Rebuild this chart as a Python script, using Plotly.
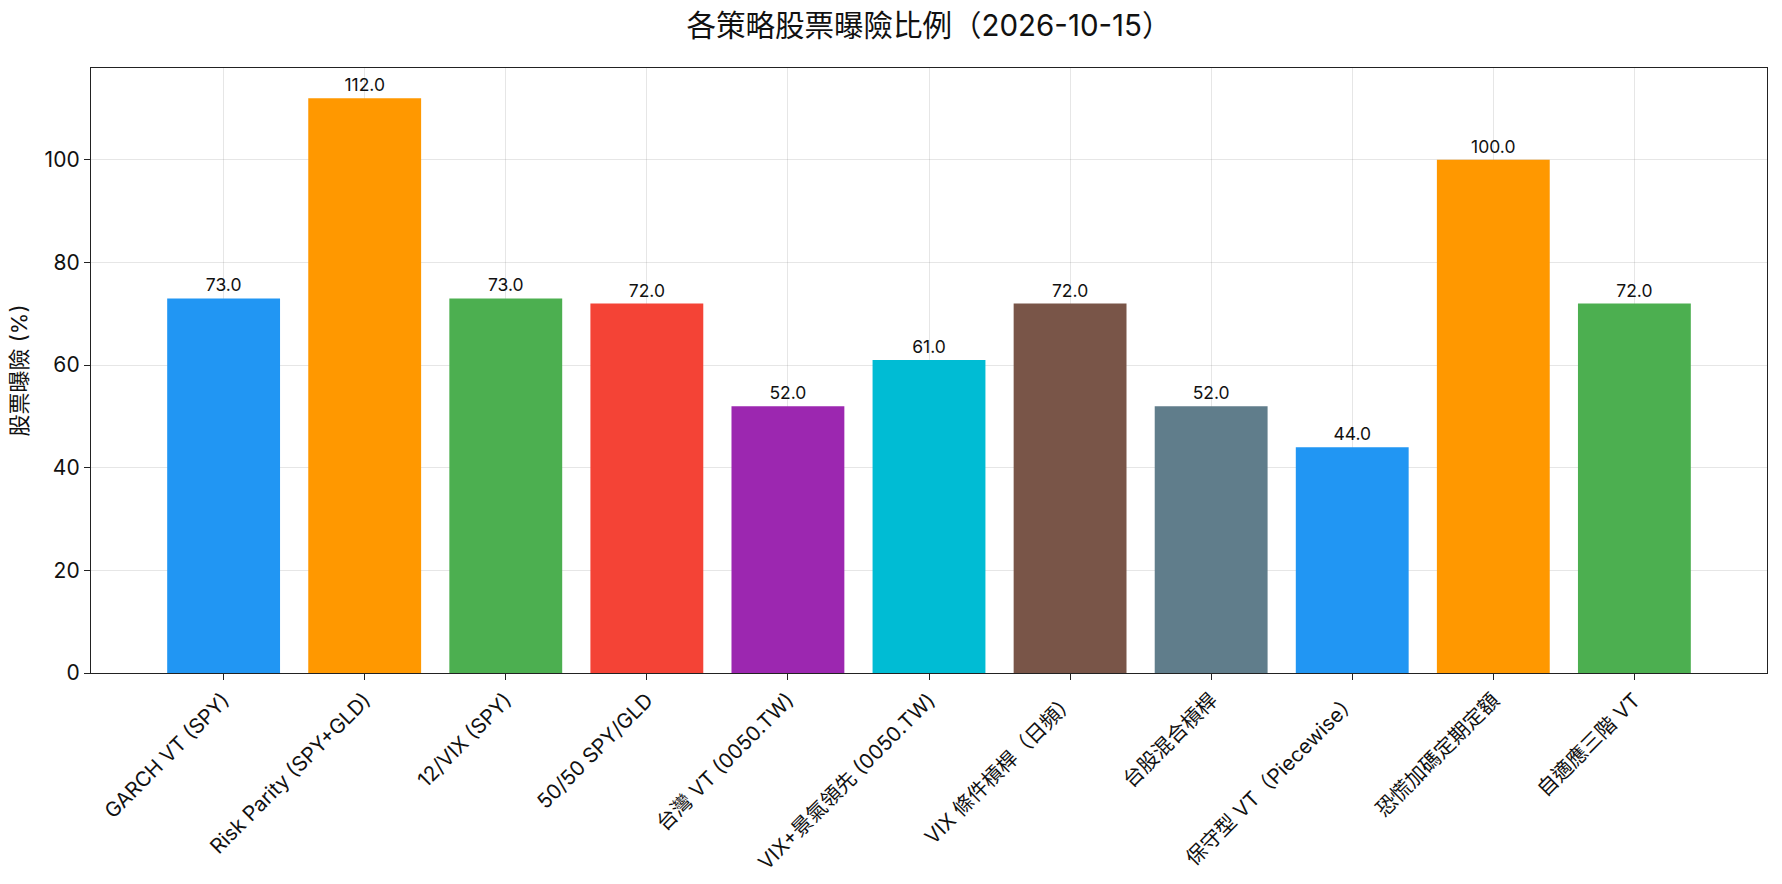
import plotly.graph_objects as go

categories = ["GARCH VT (SPY)", "Risk Parity (SPY+GLD)", "12/VIX (SPY)", "50/50 SPY/GLD",
              "台灣 VT (0050.TW)", "VIX+景氣領先 (0050.TW)", "VIX 條件槓桿（日頻）", "台股混合槓桿",
              "保守型 VT（Piecewise）", "恐慌加碼定期定額", "自適應三階 VT"]
exposure = [73.0, 112.0, 73.0, 72.0, 52.0, 61.0, 72.0, 52.0, 44.0, 100.0, 72.0]
colors = ["#2196F3", "#FF9800", "#4CAF50", "#F44336", "#9C27B0", "#00BCD4",
          "#795548", "#607D8B", "#2196F3", "#FF9800", "#4CAF50"]
title = "各策略股票曝險比例（2026-10-15）"
ylabel = "股票曝險 (%)"

FONT = "Inter, Noto Sans CJK TC, sans-serif"

fig = go.Figure(go.Bar(
    x=list(range(len(categories))), y=exposure, width=0.8,
    marker=dict(color=colors, line=dict(width=0)),
    text=[f"{v:.1f}" for v in exposure], textposition="outside",
    textfont=dict(size=17.5, color="#111111", family=FONT),
    cliponaxis=False,
))

fig.update_layout(
    width=1782, height=884,
    margin=dict(l=91, r=15, t=68, b=211, autoexpand=False),
    paper_bgcolor="white", plot_bgcolor="white",
    font=dict(family=FONT, size=20, color="#111111"),
    title=dict(text=title, xref="paper", x=0.5, xanchor="center", y=1 - 26 / 884, yanchor="middle",
               font=dict(size=29.5, color="#111111")),
    showlegend=False,
)
fig.update_xaxes(
    range=[-0.94, 10.94], tickmode="array", tickvals=list(range(len(categories))),
    ticktext=categories, tickangle=-45, tickfont=dict(size=20.5, color="#111111"),
    showgrid=True, gridcolor="rgba(128,128,128,0.2)", gridwidth=1,
    showline=True, linecolor="#222222", linewidth=1.3, mirror=True, automargin=False,
    ticks="outside", ticklen=6, tickcolor="#222222", layer="above traces", zeroline=False,
)
fig.update_yaxes(
    range=[0, 117.9], tickvals=[0, 20, 40, 60, 80, 100], tickfont=dict(size=21, color="#111111"),
    title=dict(text=ylabel, font=dict(size=22), standoff=10),
    showgrid=True, gridcolor="rgba(128,128,128,0.2)", gridwidth=1,
    showline=True, linecolor="#222222", linewidth=1.3, mirror=True, automargin=False,
    ticks="outside", ticklen=6, tickcolor="#222222", layer="above traces", zeroline=False,
)

fig.write_html("out.html")
